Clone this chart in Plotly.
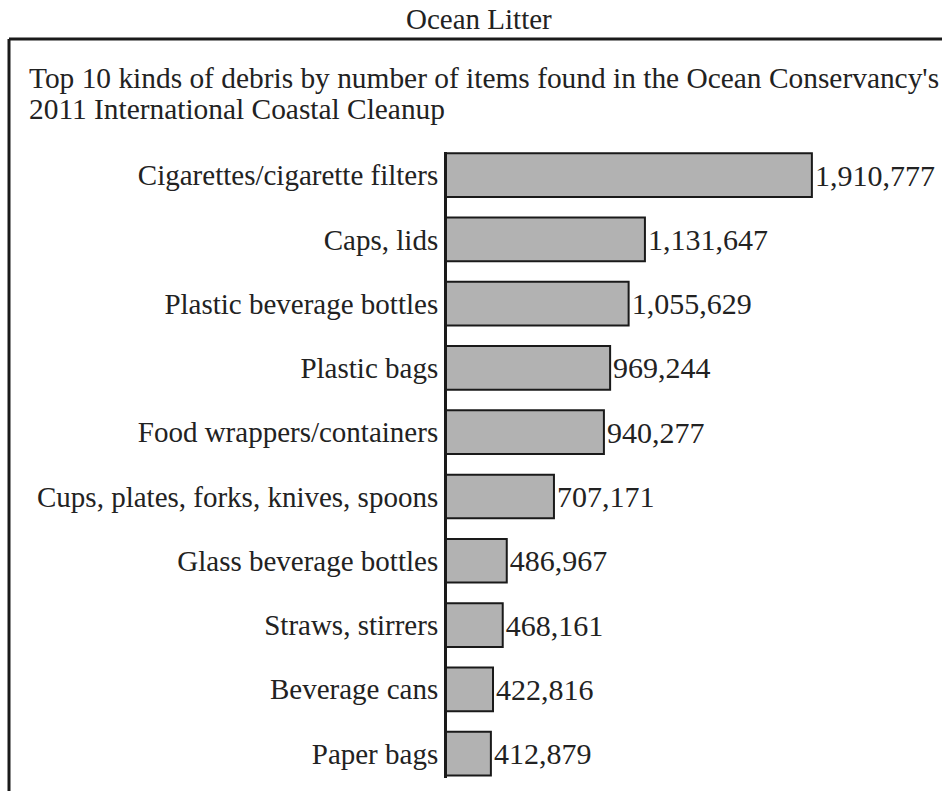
import plotly.graph_objects as go

categories = [
    "Cigarettes/cigarette filters",
    "Caps, lids",
    "Plastic beverage bottles",
    "Plastic bags",
    "Food wrappers/containers",
    "Cups, plates, forks, knives, spoons",
    "Glass beverage bottles",
    "Straws, stirrers",
    "Beverage cans",
    "Paper bags",
]
items_found = [1910777, 1131647, 1055629, 969244, 940277, 707171, 486967, 468161, 422816, 412879]
value_labels = [f"{v:,}" for v in items_found]

title_text = "Ocean Litter"
subtitle_lines = [
    "Top 10 kinds of debris by number of items found in the Ocean Conservancy's",
    "2011 International Coastal Cleanup",
]

W, H = 942, 791
FONT = "Liberation Serif"
TXT = "#222222"

fig = go.Figure(
    go.Bar(
        x=items_found,
        y=categories,
        orientation="h",
        width=0.68,
        marker=dict(color="#b2b2b2", line=dict(color="#1a1a1a", width=2)),
        text=value_labels,
        textposition="outside",
        textfont=dict(family=FONT, size=30, color=TXT),
        constraintext="none",
        cliponaxis=False,
        hoverinfo="skip",
    )
)

fig.update_layout(
    width=W,
    height=H,
    autosize=False,
    margin=dict(l=0, r=0, t=0, b=0),
    paper_bgcolor="white",
    plot_bgcolor="white",
    showlegend=False,
    font=dict(family=FONT, color=TXT),
    xaxis=dict(
        domain=[447 / W, 1.0],
        range=[208100, 2517900],
        visible=False,
        fixedrange=True,
    ),
    yaxis=dict(
        domain=[1 - 778 / H, 1 - 152 / H],
        type="category",
        categoryorder="array",
        categoryarray=categories,
        range=[9.38, -0.36],
        showline=True,
        linecolor="#1a1a1a",
        linewidth=3,
        showgrid=False,
        zeroline=False,
        ticks="",
        ticklabelstandoff=0,
        tickfont=dict(family=FONT, size=29, color=TXT),
        fixedrange=True,
    ),
    shapes=[
        dict(type="line", xref="paper", yref="paper",
             x0=9 / W, x1=1.02, y0=1 - 39 / H, y1=1 - 39 / H,
             line=dict(color="#1a1a1a", width=3)),
        dict(type="line", xref="paper", yref="paper",
             x0=9 / W, x1=9 / W, y0=1 - 39 / H, y1=-0.02,
             line=dict(color="#1a1a1a", width=3)),
    ],
    annotations=[
        dict(text=title_text, xref="paper", yref="paper",
             x=479 / W, y=1 - 19 / H, xanchor="center", yanchor="middle",
             showarrow=False, font=dict(family=FONT, size=29, color=TXT)),
        dict(text=subtitle_lines[0], xref="paper", yref="paper",
             x=27 / W, y=1 - 78 / H, xanchor="left", yanchor="middle",
             showarrow=False, font=dict(family=FONT, size=29.4, color=TXT)),
        dict(text=subtitle_lines[1], xref="paper", yref="paper",
             x=27 / W, y=1 - 109 / H, xanchor="left", yanchor="middle",
             showarrow=False, font=dict(family=FONT, size=29.4, color=TXT)),
    ],
)

fig.write_html("out.html")
